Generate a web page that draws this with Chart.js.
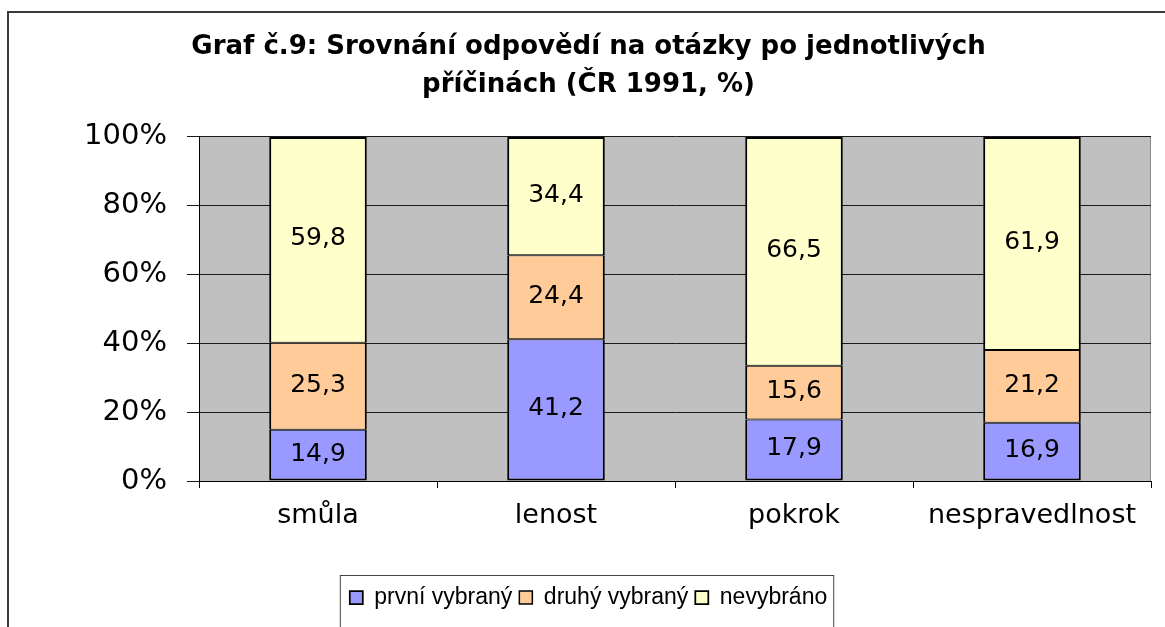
<!DOCTYPE html>
<html>
<head>
<meta charset="utf-8">
<script src="https://cdn.jsdelivr.net/npm/chart.js@4.4.0/dist/chart.umd.min.js"></script>
<style>
  html, body { margin: 0; padding: 0; background: #fff; overflow: hidden; }
  #wrap { position: relative; width: 1165px; height: 627px; }
</style>
</head>
<body>
<div id="wrap"><canvas id="chart" width="1165" height="627"></canvas></div>
<script>
  const categories = ['smůla', 'lenost', 'pokrok', 'nespravedlnost'];
  const prvniVybrany = [14.9, 41.2, 17.9, 16.9];
  const druhyVybrany = [25.3, 24.4, 15.6, 21.2];
  const nevybrano = [59.8, 34.4, 66.5, 61.9];
  const seriesNames = ['první vybraný', 'druhý vybraný', 'nevybráno'];
  const seriesColors = ['#9999FF', '#FFCC99', '#FFFFCC'];
  const titleLines = ['Graf č.9: Srovnání odpovědí na otázky po jednotlivých', 'příčinách (ČR 1991, %)'];

  // the source is a sideways-stretched Excel picture, so a wide face fits it better
  const WIDE = '"DejaVu Sans", Verdana, sans-serif';
  const NARROW = '"Liberation Sans", Arial, sans-serif';
  Chart.defaults.font.family = WIDE;
  Chart.defaults.color = '#000';

  const PAD_LEFT = 26;
  const PAD_BOTTOM = 8;
  const fmt = v => v.toFixed(1).replace('.', ',');

  // frame, grey plot background, legend box
  const framePlugin = {
    id: 'frame',
    beforeDraw(chart) {
      const { ctx, chartArea: a } = chart;
      ctx.save();
      ctx.fillStyle = '#fff';
      ctx.fillRect(0, 0, chart.width, chart.height);
      ctx.strokeStyle = '#3a3a3a';
      ctx.lineWidth = 2;
      ctx.strokeRect(8, 12, chart.width + 20, chart.height + 40);
      ctx.fillStyle = '#C0C0C0';
      ctx.fillRect(a.left, a.top, a.right - a.left, a.bottom - a.top);
      ctx.strokeStyle = '#8a8a8a';
      ctx.lineWidth = 1;
      ctx.beginPath();
      ctx.moveTo(a.right - 0.5, a.top);
      ctx.lineTo(a.right - 0.5, a.bottom);
      ctx.stroke();
      ctx.restore();
    },
    afterDraw(chart) {
      const boxes = chart.legend.legendHitBoxes;
      if (!boxes || !boxes.length) return;
      const first = boxes[0];
      const last = boxes[boxes.length - 1];
      const { ctx } = chart;
      ctx.save();
      ctx.strokeStyle = '#444';
      ctx.lineWidth = 1;
      ctx.strokeRect(first.left - 9.5, first.top - 10.5, last.left + last.width - first.left + 16, 200);
      ctx.restore();
    }
  };

  // values written in the middle of each segment
  const valueLabels = {
    id: 'valueLabels',
    afterDatasetsDraw(chart) {
      const { ctx } = chart;
      ctx.save();
      ctx.font = '25px ' + WIDE;
      ctx.fillStyle = '#000';
      ctx.textAlign = 'center';
      ctx.textBaseline = 'middle';
      chart.data.datasets.forEach((ds, i) => {
        chart.getDatasetMeta(i).data.forEach((bar, j) => {
          const { x, y, base } = bar.getProps(['x', 'y', 'base'], true);
          ctx.fillText(fmt(ds.data[j]), x, (y + base) / 2 - 1);
        });
      });
      ctx.restore();
    }
  };

  const borderWidths = [
    { top: 1, bottom: 2, left: 2, right: 2 },
    { top: 1, bottom: 1, left: 2, right: 2 },
    { top: 2, bottom: 1, left: 2, right: 2 }
  ];

  const datasets = [prvniVybrany, druhyVybrany, nevybrano].map((data, i) => ({
    label: seriesNames[i],
    data,
    backgroundColor: seriesColors[i],
    borderColor: '#000',
    borderWidth: borderWidths[i],
    borderSkipped: false,
    categoryPercentage: 0.41,
    barPercentage: 1
  }));

  new Chart(document.getElementById('chart'), {
    type: 'bar',
    data: { labels: categories, datasets },
    options: {
      responsive: false,
      animation: false,
      devicePixelRatio: 1,
      layout: { padding: { left: PAD_LEFT, right: 14, top: 0, bottom: PAD_BOTTOM } },
      plugins: {
        title: {
          display: true,
          text: titleLines,
          color: '#000',
          font: { family: WIDE, size: 26, weight: 'bold', lineHeight: 1.46 },
          padding: { top: 28, bottom: 33 }
        },
        legend: {
          position: 'bottom',
          labels: {
            boxWidth: 13,
            boxHeight: 13,
            padding: 7,
            color: '#000',
            font: { family: NARROW, size: 23 }
          }
        },
        tooltip: { enabled: false }
      },
      scales: {
        x: {
          stacked: true,
          grid: {
            display: true,
            drawOnChartArea: false,
            drawTicks: true,
            tickLength: 7,
            color: '#000',
            offset: true
          },
          border: { display: true, color: '#000', width: 1 },
          ticks: { font: { size: 27 }, padding: 12, color: '#000' },
          afterFit(scale) {
            scale.height = 627 - PAD_BOTTOM - scale.chart.legend.height - 481;
          }
        },
        y: {
          stacked: true,
          min: 0,
          max: 100,
          grid: { color: '#1a1a1a', lineWidth: 1, tickLength: 12, drawTicks: true },
          border: { display: true, color: '#000', width: 1 },
          ticks: {
            stepSize: 20,
            padding: 20,
            font: { size: 29 },
            color: '#000',
            callback: v => v + '%'
          },
          afterFit(scale) {
            scale.width = 199 - PAD_LEFT;
          }
        }
      }
    },
    plugins: [framePlugin, valueLabels]
  });
</script>
</body>
</html>
